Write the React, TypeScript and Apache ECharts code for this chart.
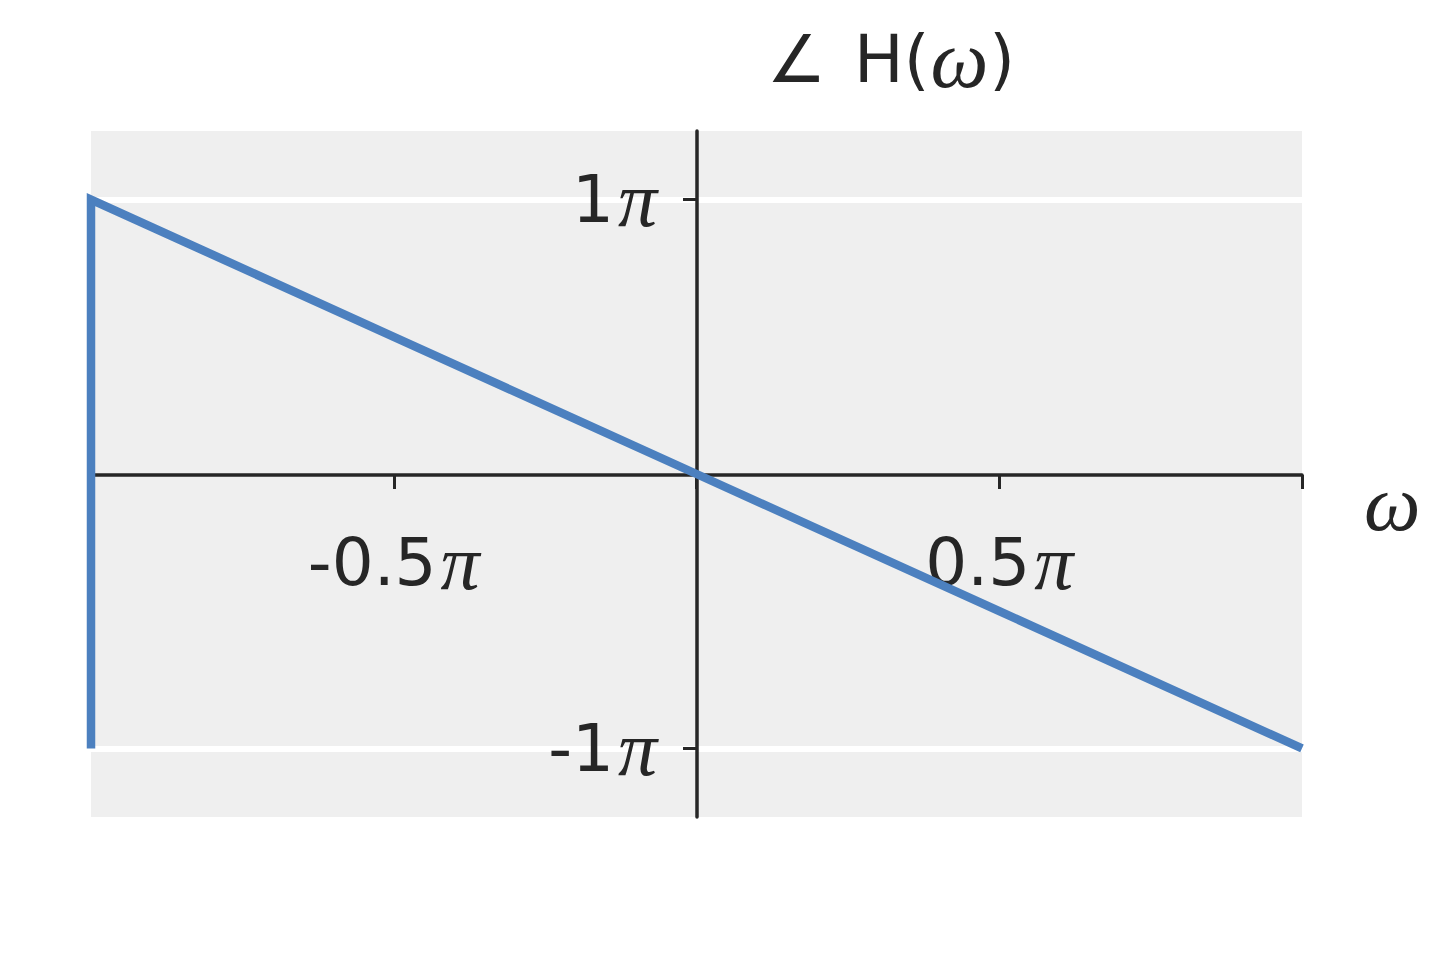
import React, { useEffect, useRef } from 'react';
import * as echarts from 'echarts';

// ω in units of π, and ∠H(ω) in units of π
const omega = [-1, -1, -0.5, 0, 0.5, 1];
const phase = [-1, 1, 0.5, 0, -0.5, -1];
const xTickValues = [-1, -0.5, 0, 0.5, 1];
const xLabelValues = [-0.5, 0.5];
const yTickValues = [-1, 1];
const titleParts = ['∠', 'H(', 'ω', ')'];
const xAxisName = 'ω';

const TEXT = '#262626';
const SANS = 'DejaVu Sans';
const MATH = 'Liberation Serif';

const rich = {
  n: { fontFamily: SANS, fontSize: 66, fontWeight: 'normal', color: TEXT },
  p: { fontFamily: MATH, fontStyle: 'italic', fontWeight: 'normal', fontSize: 78, color: TEXT, padding: [0, 0, 0, 4] },
  a: { fontFamily: SANS, fontSize: 66, fontWeight: 'normal', color: TEXT, padding: [0, 28, 0, 0] },
  w: { fontFamily: MATH, fontStyle: 'italic', fontWeight: 'normal', fontSize: 82, color: TEXT, padding: [0, 1, 0, 1] },
};

const piFmt = (v: number) => `{n|${v}}{p|π}`;

export default function App() {
  const ref = useRef<HTMLDivElement>(null);
  useEffect(() => {
    if (!ref.current) return;
    const chart = echarts.init(ref.current, undefined, { renderer: 'svg' });
    chart.setOption({
      animation: false,
      backgroundColor: '#ffffff',
      title: {
        text: `{a|${titleParts[0]}}{n|${titleParts[1]}}{w|${titleParts[2]}}{n|${titleParts[3]}}`,
        left: 886,
        textAlign: 'center',
        top: 13,
        textStyle: { fontWeight: 'normal', rich },
      },
      grid: {
        left: 91,
        right: 138,
        top: 131,
        bottom: 143,
        containLabel: false,
        outerBoundsMode: 'none',
        show: true,
        backgroundColor: '#efefef',
        borderWidth: 0,
      },
      xAxis: {
        type: 'value',
        min: -1,
        max: 1,
        interval: 0.5,
        position: 'bottom',
        offset: -342,
        axisLine: { onZero: false, lineStyle: { color: TEXT, width: 3.5 } },
        axisTick: { show: true, length: 14, customValues: xTickValues, lineStyle: { color: TEXT, width: 3 } },
        axisLabel: { customValues: xLabelValues, margin: 48, formatter: piFmt, rich },
        splitLine: { show: false },
        name: xAxisName,
        nameLocation: 'end',
        nameGap: 62,
        nameTextStyle: {
          fontFamily: MATH,
          fontStyle: 'italic',
          fontSize: 80,
          lineHeight: 56,
          color: TEXT,
          verticalAlign: 'top',
          padding: [0, 0, 0, 0],
        },
      },
      yAxis: {
        type: 'value',
        min: -1.25,
        max: 1.25,
        position: 'left',
        offset: -606,
        axisLine: { onZero: false, lineStyle: { color: TEXT, width: 3.5 } },
        axisTick: { show: true, length: 14, customValues: yTickValues, lineStyle: { color: TEXT, width: 3 } },
        axisLabel: { customValues: yTickValues, margin: 40, formatter: piFmt, rich },
        splitLine: { show: true, lineStyle: { color: '#ffffff', width: 6 } },
      },
      series: [
        {
          type: 'line',
          data: omega.map((w, i) => [w, phase[i]]),
          showSymbol: false,
          symbol: 'none',
          lineStyle: { color: '#4c80bf', width: 8.5, cap: 'butt', join: 'miter' },
          z: 3,
        },
      ],
    });
    return () => chart.dispose();
  }, []);
  return <div ref={ref} style={{ position: 'fixed', left: 0, top: 0, width: 1440, height: 960 }} />;
}
